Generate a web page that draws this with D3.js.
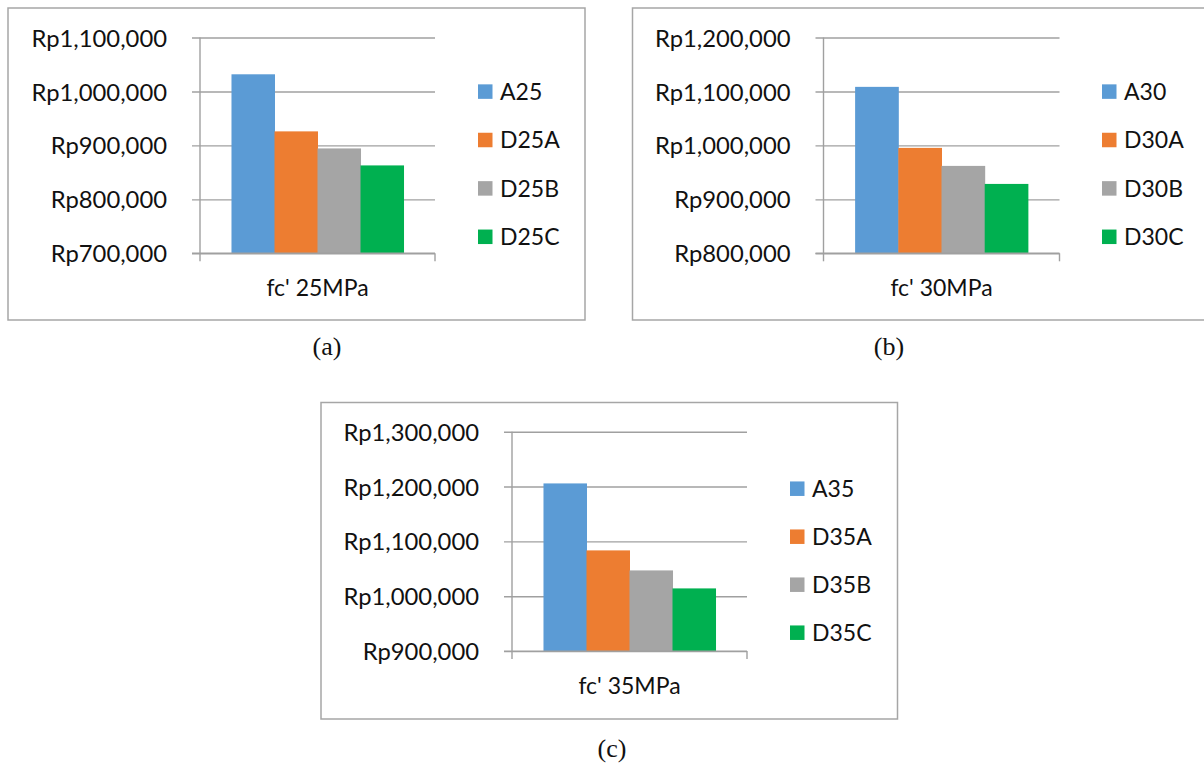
<!DOCTYPE html>
<html>
<head>
<meta charset="utf-8">
<script src="https://cdn.jsdelivr.net/npm/d3@7"></script>
<style>
  html, body { margin: 0; padding: 0; background: #ffffff; }
  svg { display: block; }
  text { font-family: Lato, "Open Sans", sans-serif; fill: #111; }
  .caption { font-family: "Liberation Serif", "Times New Roman", serif; }
</style>
</head>
<body>
<svg id="chart" width="1204" height="767"></svg>
<script>
// Series colours shared by all three panels
const seriesColors = ["#5b9bd5", "#ed7d31", "#a5a5a5", "#00b050"];

// Panel (a): fc' 25MPa
const categoryA = ["fc' 25MPa"];
const seriesA = ["A25", "D25A", "D25B", "D25C"];
const valuesA = [1031800, 926000, 894400, 862900];
const ticksA = [700000, 800000, 900000, 1000000, 1100000];

// Panel (b): fc' 30MPa
const categoryB = ["fc' 30MPa"];
const seriesB = ["A30", "D30A", "D30B", "D30C"];
const valuesB = [1108500, 995400, 962000, 928600];
const ticksB = [800000, 900000, 1000000, 1100000, 1200000];

// Panel (c): fc' 35MPa
const categoryC = ["fc' 35MPa"];
const seriesC = ["A35", "D35A", "D35B", "D35C"];
const valuesC = [1205700, 1083600, 1047100, 1014300];
const ticksC = [900000, 1000000, 1100000, 1200000, 1300000];

const captions = ["(a)", "(b)", "(c)"];

const svg = d3.select("#chart");
const rupiah = v => "Rp" + d3.format(",")(v);

function drawPanel(opts) {
  const { frame, plot, category, series, values, ticks, legend, caption } = opts;
  const g = svg.append("g");

  // outer chart border
  g.append("rect")
    .attr("x", frame.x).attr("y", frame.y)
    .attr("width", frame.w).attr("height", frame.h)
    .attr("fill", "#fff")
    .attr("stroke", "#a6a6a6").attr("stroke-width", 1.5);

  const x0 = plot.x, x1 = plot.x + plot.w;
  const yTop = plot.y, yBot = plot.y + plot.h;

  const y = d3.scaleLinear()
    .domain([ticks[0], ticks[ticks.length - 1]])
    .range([yBot, yTop]);

  const xBand = d3.scaleBand()
    .domain(category)
    .range([x0, x1])
    .paddingInner(0)
    .paddingOuter(0.183);

  const xInner = d3.scaleBand()
    .domain(series)
    .range([0, xBand.bandwidth()])
    .padding(0);

  // value axis: ticks run across the plot as gridlines
  const tickLen = plot.w + 8;
  const yAxis = g.append("g")
    .attr("transform", `translate(${x1},0)`)
    .call(d3.axisLeft(y)
      .tickValues(ticks)
      .tickFormat(rupiah)
      .tickSizeInner(tickLen)
      .tickSizeOuter(0)
      .tickPadding(25));
  yAxis.select(".domain").remove();
  yAxis.selectAll(".tick line")
    .attr("stroke", "#a0a0a0").attr("stroke-width", 1.4);
  yAxis.selectAll(".tick text")
    .attr("dy", "0.36em")
    .style("font-size", "23.8px")
    .style("font-family", "Lato, 'Open Sans', sans-serif")
    .attr("fill", "#111");

  // vertical axis line and category boundary ticks
  g.append("line")
    .attr("x1", x0).attr("x2", x0)
    .attr("y1", yTop).attr("y2", yBot + 8)
    .attr("stroke", "#a0a0a0").attr("stroke-width", 1.4);
  g.append("line")
    .attr("x1", x1).attr("x2", x1)
    .attr("y1", yBot).attr("y2", yBot + 8)
    .attr("stroke", "#a0a0a0").attr("stroke-width", 1.4);

  // bars
  g.append("g")
    .selectAll("rect")
    .data(series.map((s, i) => ({ s, v: values[i], c: seriesColors[i] })))
    .join("rect")
    .attr("x", d => xBand(category[0]) + xInner(d.s))
    .attr("width", xInner.bandwidth() + 0.5)
    .attr("y", d => y(d.v))
    .attr("height", d => yBot - y(d.v))
    .attr("fill", d => d.c);

  // redraw the baseline over the bars
  g.append("line")
    .attr("x1", x0 - 8).attr("x2", x1)
    .attr("y1", yBot).attr("y2", yBot)
    .attr("stroke", "#a0a0a0").attr("stroke-width", 1.4);

  // category axis label
  const xAxis = g.append("g")
    .attr("transform", `translate(0,${yBot})`)
    .call(d3.axisBottom(xBand).tickSize(0).tickPadding(0));
  xAxis.select(".domain").remove();
  xAxis.selectAll(".tick text")
    .attr("y", 43).attr("dy", 0)
    .style("font-size", "23px")
    .style("font-family", "Lato, 'Open Sans', sans-serif")
    .attr("fill", "#111");

  // legend
  const lg = g.append("g");
  const rows = lg.selectAll("g")
    .data(series)
    .join("g")
    .attr("transform", (d, i) => `translate(${legend.x},${legend.y + i * legend.step})`);
  rows.append("rect")
    .attr("x", 0).attr("y", -7.25)
    .attr("width", 14.5).attr("height", 14.5)
    .attr("fill", (d, i) => seriesColors[i]);
  rows.append("text")
    .attr("x", 22).attr("y", 0).attr("dy", "0.36em")
    .style("font-size", "23px")
    .text(d => d);

  // panel caption
  svg.append("text")
    .attr("class", "caption")
    .attr("x", caption.x).attr("y", caption.y)
    .attr("text-anchor", "middle")
    .style("font-size", "26px")
    .style("font-family", "'Liberation Serif', 'Times New Roman', serif")
    .attr("fill", "#000")
    .text(caption.text);
}

drawPanel({
  frame: { x: 8, y: 8, w: 577, h: 312 },
  plot: { x: 200, y: 37.5, w: 235, h: 215.8 },
  category: categoryA, series: seriesA, values: valuesA, ticks: ticksA,
  legend: { x: 478, y: 91.6, step: 48.4 },
  caption: { x: 327, y: 355, text: captions[0] }
});

drawPanel({
  frame: { x: 632.5, y: 8, w: 590, h: 312 },
  plot: { x: 823.5, y: 37.5, w: 236, h: 215.8 },
  category: categoryB, series: seriesB, values: valuesB, ticks: ticksB,
  legend: { x: 1102, y: 91.6, step: 48.4 },
  caption: { x: 889, y: 355, text: captions[1] }
});

drawPanel({
  frame: { x: 321, y: 402.5, w: 576.5, h: 316.5 },
  plot: { x: 512, y: 431.7, w: 235, h: 219.4 },
  category: categoryC, series: seriesC, values: valuesC, ticks: ticksC,
  legend: { x: 790, y: 488.7, step: 48 },
  caption: { x: 612, y: 757, text: captions[2] }
});
</script>
</body>
</html>
